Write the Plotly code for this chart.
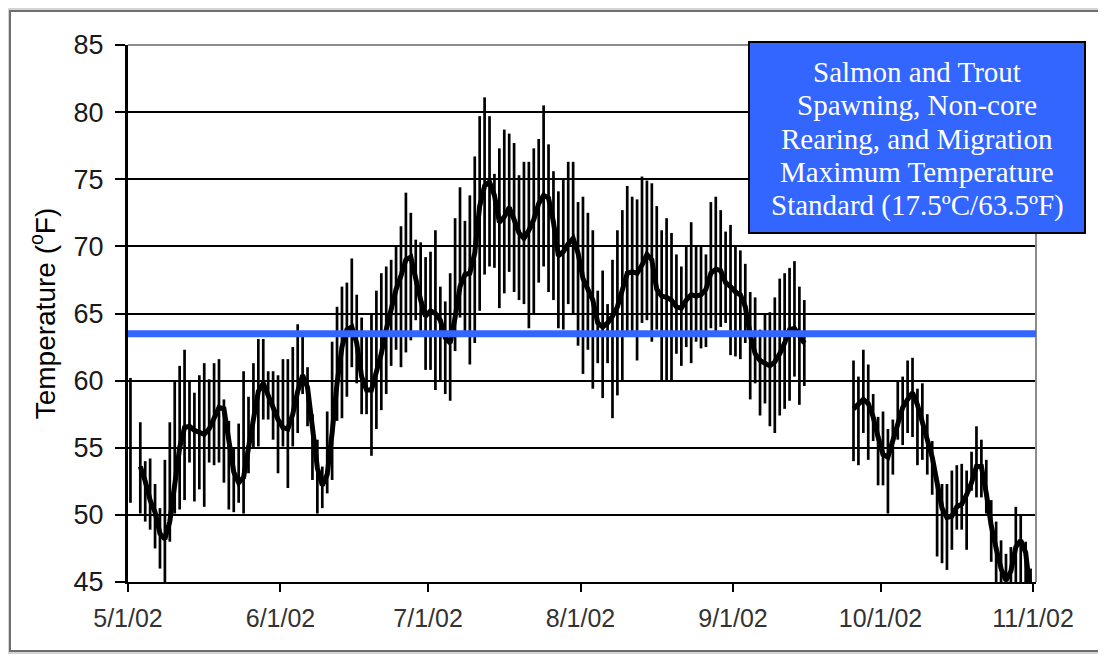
import pandas as pd
import plotly.graph_objects as go

# daily water temperature (deg F), one value per day starting 5/1/02; None = no record
daily_mean = [
    None, None, 53.6, 52.5, 51.1, 50.2, 48.6, 48.2, 49.5, 52.3,
    55.0, 56.5, 56.6, 56.3, 56.1, 56.0, 56.4, 57.2, 58.0, 57.9,
    55.5, 53.2, 52.4, 52.8, 55.0, 57.0, 59.2, 59.8, 59.0, 58.0,
    57.1, 56.5, 56.4, 57.5, 59.2, 60.4, 59.5, 56.5, 53.5, 52.2,
    53.0, 56.1, 59.8, 62.5, 63.8, 64.0, 62.8, 60.3, 59.3, 59.3,
    60.5, 62.0, 63.8, 65.5, 66.8, 67.8, 69.0, 69.2, 67.5, 66.0,
    64.8, 65.2, 65.0, 64.5, 63.2, 62.8, 64.7, 67.0, 67.9, 68.0,
    69.5, 73.0, 74.5, 74.8, 73.8, 71.8, 72.2, 72.9, 72.0, 71.0,
    70.6, 71.2, 72.0, 73.2, 73.8, 73.6, 71.8, 69.3, 69.6, 70.2,
    70.6, 69.5, 67.6, 66.8, 66.0, 64.3, 64.0, 64.3, 64.8, 65.5,
    66.7, 68.0, 68.1, 68.0, 68.6, 69.4, 69.0, 66.8, 66.3, 66.2,
    66.0, 65.5, 65.4, 66.0, 66.4, 66.3, 66.4, 66.8, 68.0, 68.3,
    68.2, 67.3, 67.0, 66.6, 66.4, 65.5, 63.4, 62.0, 61.5, 61.3,
    61.1, 61.4, 62.0, 62.8, 63.8, 63.9, 63.4, 62.8, None, None,
    None, None, None, None, None, None, None, 57.9, 58.2, 58.6,
    58.3, 57.3, 55.8, 54.5, 54.3, 55.5, 57.0, 58.0, 58.6, 59.1,
    58.2, 56.8, 55.6, 54.3, 52.4, 50.5, 49.8, 49.9, 50.6, 50.8,
    51.5, 52.4, 53.6, 53.6, 51.6, 49.2, 47.5, 46.0, 45.1, 45.8,
    47.6, 48.1, 47.2, 44.0,
]
daily_max = [
    60.2, None, 56.9, 54.0, 54.2, 52.3, 50.5, 54.1, 56.9, 60.0,
    61.1, 62.3, 59.9, 59.1, 60.4, 61.3, 60.1, 61.3, 61.6, 58.6,
    57.0, 54.9, 56.8, 60.7, 58.8, 61.3, 63.1, 63.1, 60.7, 60.7,
    60.4, 61.6, 61.6, 62.5, 64.2, 63.7, 61.0, 57.5, 55.6, 53.6,
    57.7, 62.9, 65.5, 67.0, 67.3, 69.1, 66.4, 64.7, 63.5, 64.9,
    66.7, 68.0, 68.5, 69.0, 70.1, 71.5, 74.0, 72.5, 70.5, 70.3,
    69.2, 69.6, 71.2, 67.0, 65.9, 68.0, 72.1, 74.4, 71.9, 73.8,
    76.7, 79.7, 81.1, 79.7, 75.4, 77.3, 78.7, 78.4, 77.7, 75.3,
    76.3, 76.3, 77.3, 78.0, 80.5, 77.6, 75.6, 74.1, 75.0, 76.3,
    76.3, 73.3, 73.7, 72.5, 71.2, 66.7, 68.2, 65.7, 69.0, 71.2,
    72.7, 74.5, 73.7, 73.5, 75.2, 74.9, 74.7, 73.0, 71.2, 72.1,
    71.0, 69.4, 68.5, 70.1, 71.8, 70.0, 70.1, 69.4, 73.3, 73.7,
    72.7, 71.1, 71.6, 70.0, 69.7, 68.7, 66.6, 66.2, 63.8, 64.9,
    65.1, 66.2, 67.6, 68.0, 68.4, 68.9, 67.0, 66.0, None, None,
    None, None, None, None, None, None, None, 61.5, 60.3, 62.3,
    61.2, 59.0, 57.3, 57.7, 56.4, 57.1, 59.9, 60.3, 61.5, 61.7,
    59.4, 59.8, 57.5, 55.5, 52.6, 52.3, 52.3, 53.3, 53.7, 53.8,
    53.3, 54.7, 56.6, 55.6, 54.1, 51.1, 49.5, 48.1, 47.1, 47.6,
    50.6, 50.0, 48.0, 46.0,
]
daily_min = [
    50.9, None, 50.1, 49.5, 48.9, 47.5, 46.0, 45.0, 48.0, 50.1,
    50.4, 51.1, 53.9, 51.0, 51.9, 50.6, 53.9, 53.7, 53.9, 52.4,
    50.4, 50.2, 50.9, 50.1, 53.1, 55.0, 55.1, 57.1, 57.1, 55.6,
    53.1, 55.1, 52.0, 55.1, 56.1, 59.0, 56.6, 52.6, 50.1, 50.5,
    51.6, 52.6, 57.0, 57.2, 58.8, 61.0, 59.8, 57.5, 57.5, 54.4,
    56.4, 57.8, 59.0, 61.1, 62.3, 61.0, 62.1, 63.0, 64.5, 63.7,
    60.8, 60.8, 59.3, 60.0, 59.0, 58.5, 62.2, 64.7, 63.7, 61.2,
    62.8, 65.2, 67.9, 68.5, 68.4, 65.4, 66.5, 68.1, 66.6, 66.0,
    65.7, 63.9, 64.9, 67.3, 68.5, 66.6, 66.0, 63.9, 63.8, 65.7,
    64.9, 62.6, 60.5, 62.3, 59.4, 61.3, 58.7, 61.3, 57.2, 58.9,
    60.0, 63.3, 63.3, 61.5, 64.3, 64.5, 62.9, 63.8, 59.9, 60.0,
    60.0, 62.0, 61.1, 62.5, 61.3, 62.9, 62.4, 62.5, 63.9, 63.6,
    64.0, 64.3, 61.9, 61.8, 61.6, 62.8, 58.6, 59.8, 57.4, 58.3,
    56.6, 56.1, 57.4, 57.9, 58.5, 60.3, 58.2, 59.6, None, None,
    None, None, None, None, None, None, None, 54.0, 53.7, 56.1,
    54.1, 55.5, 52.2, 52.2, 50.1, 53.0, 55.6, 55.2, 56.1, 55.8,
    53.7, 54.1, 53.0, 51.5, 46.9, 46.4, 45.9, 47.4, 48.9, 48.9,
    47.4, 51.8, 51.3, 51.3, 50.1, 46.5, 44.5, 44.0, 43.5, 43.8,
    44.9, 45.0, 44.0, 43.0,
]
dates = pd.date_range("2002-05-01 12:00", periods=len(daily_mean), freq="D")

standard_f = 63.5
box_lines = ["Salmon and Trout", "Spawning, Non-core", "Rearing, and Migration",
             "Maximum Temperature", "Standard (17.5ºC/63.5ºF)"]
tick_dates = pd.date_range("2002-05-01", "2002-11-01", freq="MS")
tick_text = ["5/1/02", "6/1/02", "7/1/02", "8/1/02", "9/1/02", "10/1/02", "11/1/02"]

# page pixels of the plot area; the page body adds an 8px margin
OFF = 8
L, R, T, B = 128, 1036, 45, 582
W, H = 1106 - OFF, 656 - OFF


def px(p):
    return (p - L) / (R - L)


def py(q):
    return (B - q) / (B - T)


# min-max bars as one broken line
bar_x, bar_y = [], []
for d, lo, hi in zip(dates, daily_min, daily_max):
    if lo is None:
        continue
    bar_x += [d, d, None]
    bar_y += [lo, hi, None]

fig = go.Figure()
fig.add_trace(go.Scatter(x=bar_x, y=bar_y, mode="lines",
                         line=dict(color="black", width=2.7), hoverinfo="skip"))
fig.add_trace(go.Scatter(x=dates, y=daily_mean, mode="lines", connectgaps=False,
                         line=dict(color="black", width=5), hoverinfo="skip"))

sans = "Liberation Sans, Arial, sans-serif"
serif = "Liberation Serif, Times New Roman, serif"

shapes = [
    # picture frame
    dict(type="rect", xref="paper", yref="paper", x0=px(0), x1=px(1104), y0=py(654), y1=py(0),
         fillcolor="#d4d4d4", line=dict(width=0), layer="below"),
    dict(type="rect", xref="paper", yref="paper", x0=px(10), x1=px(1101), y0=py(651), y1=py(11),
         fillcolor="white", line=dict(color="#6e6e6e", width=2), layer="below"),
    # grey plot border top / right
    dict(type="line", xref="paper", yref="paper", x0=0, x1=1, y0=1, y1=1,
         line=dict(color="#8c8c8c", width=2), layer="above"),
    dict(type="line", xref="paper", yref="paper", x0=1, x1=1, y0=0, y1=1,
         line=dict(color="#8c8c8c", width=2), layer="above"),
    # standard line
    dict(type="line", xref="paper", yref="y", x0=0, x1=1, y0=standard_f, y1=standard_f,
         line=dict(color="#3366ff", width=7), layer="above"),
    # label box
    dict(type="rect", xref="paper", yref="paper", x0=px(749), x1=px(1085), y0=py(233), y1=py(42),
         fillcolor="#3366ff", line=dict(color="black", width=2), layer="above"),
]

annotations = []
for i, line in enumerate(box_lines):
    annotations.append(dict(
        text=line, xref="paper", yref="paper", x=px(917), y=py(72 + i * 33.3),
        xanchor="center", yanchor="middle", showarrow=False,
        font=dict(family=serif, size=29, color="white")))

fig.update_layout(
    width=W, height=H, autosize=False,
    margin=dict(l=L - OFF, r=W - (R - OFF), t=T - OFF, b=H - (B - OFF)),
    paper_bgcolor="white", plot_bgcolor="white",
    showlegend=False, hovermode=False,
    shapes=shapes, annotations=annotations,
    xaxis=dict(
        type="date", range=["2002-05-01", "2002-11-01 14:30"],
        tickvals=tick_dates, ticktext=tick_text,
        ticks="outside", ticklen=8, tickwidth=1.5, tickcolor="black",
        showline=True, linecolor="black", linewidth=2,
        showgrid=False, zeroline=False, ticklabelstandoff=5,
        tickfont=dict(family=sans, size=25, color="#333333"),
    ),
    yaxis=dict(
        range=[45, 85], tick0=45, dtick=5,
        ticks="outside", ticklen=10, tickwidth=2, tickcolor="black",
        showline=True, linecolor="black", linewidth=3,
        showgrid=True, gridcolor="black", gridwidth=2, zeroline=False,
        ticklabelstandoff=6,
        tickfont=dict(family=sans, size=27, color="#1a1a1a"),
        title=dict(text="Temperature (<sup>o</sup>F)", standoff=10,
                   font=dict(family=sans, size=28, color="black")),
    ),
)

fig.write_html("out.html")
